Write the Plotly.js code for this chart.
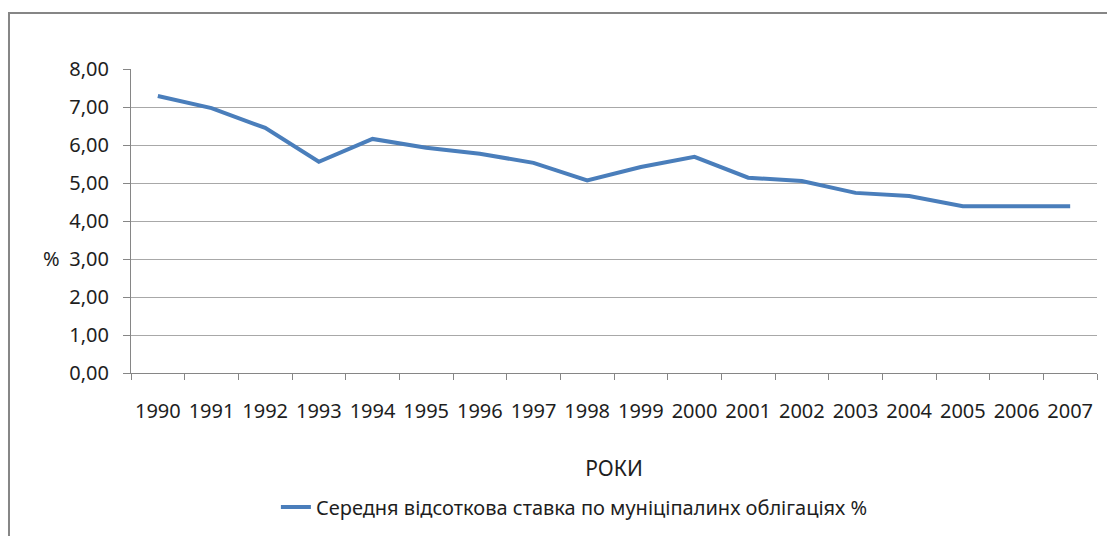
<!DOCTYPE html>
<html>
<head>
<meta charset="utf-8">
<script src="https://cdn.plot.ly/plotly-3.0.1.min.js"></script>
<style>
  html, body { margin: 0; padding: 0; background: #ffffff; }
  #chart { width: 1107px; height: 536px; }
</style>
</head>
<body>
<div id="chart"></div>
<script>
const years = ["1990","1991","1992","1993","1994","1995","1996","1997","1998","1999",
               "2000","2001","2002","2003","2004","2005","2006","2007"];
const rates = [7.29, 6.97, 6.45, 5.56, 6.16, 5.93, 5.77, 5.53, 5.07, 5.42,
               5.69, 5.14, 5.05, 4.74, 4.66, 4.39, 4.39, 4.39];
const seriesName = "Середня відсоткова ставка по муніціпалинх облігаціях %";
const xTitle = "РОКИ";
const yTitle = "%";

const FONT = "Noto Sans, Liberation Sans, Arial, sans-serif";
const TXT = "#1e1e1e";

const trace = {
  x: years,
  y: rates,
  type: "scatter",
  mode: "lines",
  name: seriesName,
  line: { color: "#4a7ebb", width: 4 },
  hoverinfo: "x+y"
};

const layout = {
  width: 1107,
  height: 536,
  margin: { l: 131, r: 10, t: 69, b: 163 },
  paper_bgcolor: "#ffffff",
  plot_bgcolor: "#ffffff",
  separators: ", ",
  font: { family: FONT, size: 20, color: TXT },
  showlegend: true,
  legend: {
    orientation: "h",
    x: 0.150, xanchor: "left",
    y: -0.441, yanchor: "middle",
    font: { family: FONT, size: 20, color: TXT },
    bgcolor: "rgba(0,0,0,0)"
  },
  xaxis: {
    type: "category",
    range: [-0.5, 17.5],
    showgrid: false,
    showline: true,
    linecolor: "#868686",
    linewidth: 1,
    ticks: "outside",
    tickson: "boundaries",
    ticklen: 6,
    tickcolor: "#868686",
    tickangle: 0,
    tickfont: { family: FONT, size: 20, color: TXT },
    ticklabelstandoff: 20,
    automargin: false,
    title: { text: xTitle, font: { family: FONT, size: 21, color: TXT }, standoff: 38 },
    fixedrange: true
  },
  yaxis: {
    range: [0, 8],
    dtick: 1,
    tick0: 0,
    tickformat: ".2f",
    showgrid: true,
    gridcolor: "#a8a8a8",
    gridwidth: 1,
    showline: true,
    linecolor: "#868686",
    linewidth: 1,
    zeroline: false,
    ticks: "outside",
    ticklen: 7,
    tickcolor: "#868686",
    tickfont: { family: FONT, size: 20, color: TXT },
    ticklabelstandoff: 10,
    automargin: false,
    fixedrange: true
  },
  annotations: [
    {
      text: yTitle,
      xref: "paper", yref: "paper",
      x: -0.0818, y: 0.378,
      xanchor: "center", yanchor: "middle",
      showarrow: false,
      font: { family: FONT, size: 20, color: TXT }
    }
  ],
  shapes: [
    {
      type: "rect",
      xref: "paper", yref: "paper",
      x0: -0.1263, x1: 1.03,
      y0: -0.6, y1: 1.1842,
      line: { color: "#868686", width: 2 },
      fillcolor: "rgba(0,0,0,0)",
      layer: "below"
    }
  ]
};

Plotly.newPlot("chart", [trace], layout, { displayModeBar: false, staticPlot: true });
</script>
</body>
</html>
